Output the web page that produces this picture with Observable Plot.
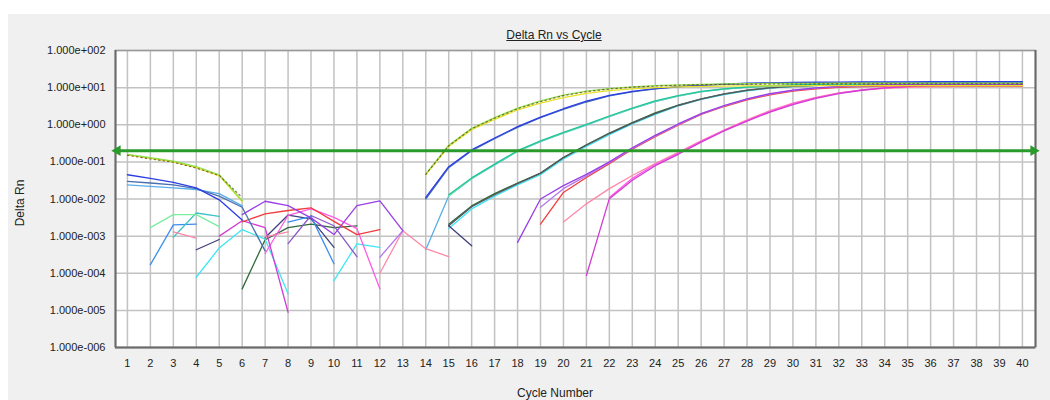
<!DOCTYPE html>
<html><head><meta charset="utf-8">
<script src="https://cdn.jsdelivr.net/npm/d3@7"></script>
<script src="https://cdn.jsdelivr.net/npm/@observablehq/plot@0.6"></script>
<style>
body{margin:0;background:#fff;width:1050px;height:400px;overflow:hidden;font-family:"Liberation Sans",Arial,sans-serif;}
#panel{position:absolute;left:8px;top:14px;width:1042px;height:386px;background:#f0f0f0;}
#chart{position:absolute;left:0;top:0;}
.lbl{position:absolute;font-size:12px;line-height:14px;color:#222;white-space:nowrap;}
</style></head>
<body>
<div id="panel"></div>
<div id="chart"></div>
<div class="lbl" style="left:554px;top:28px;transform:translateX(-50%);text-decoration:underline;">Delta Rn vs Cycle</div>
<div class="lbl" style="left:555px;top:386px;transform:translateX(-50%);">Cycle Number</div>
<div class="lbl" style="left:20px;top:203px;transform:translate(-50%,-50%) rotate(-90deg);">Delta Rn</div>
<script>
const _ = null;
const cycles = [1,2,3,4,5,6,7,8,9,10,11,12,13,14,15,16,17,18,19,20,21,22,23,24,25,26,27,28,29,30,31,32,33,34,35,36,37,38,39,40];
const yTicks = [1e-6,1e-5,1e-4,1e-3,1e-2,1e-1,1e0,1e1,1e2];
const yTickLabels = ["1.000e-006","1.000e-005","1.000e-004","1.000e-003","1.000e-002","1.000e-001","1.000e+000","1.000e+001","1.000e+002"];
const threshold = 0.2;

const w01 = [0.16,0.13,0.105,0.075,0.045,0.009,_,_,_,_,_,_,_,0.047,0.28,0.80,1.55,2.8,4.4,6.3,8.0,9.4,10.5,11.3,11.9,12.3,12.6,12.8,12.9,13.0,13.0,13.1,13.1,13.1,13.2,13.2,13.2,13.2,13.2,13.2];
const w02 = [0.155,0.125,0.10,0.07,0.042,0.0085,_,_,_,_,_,_,_,0.045,0.26,0.74,1.4,2.5,3.8,5.4,7.0,8.3,9.3,10.0,10.5,10.8,11.0,11.1,11.2,11.2,11.3,11.3,11.3,11.3,11.3,11.3,11.3,11.3,11.3,11.3];
const w03 = [0.15,0.12,0.098,0.068,0.043,0.011,_,_,_,_,_,_,_,0.046,0.27,0.78,1.5,2.7,4.2,6.1,7.8,9.2,10.3,11.0,11.6,12.0,12.2,12.4,12.5,12.5,12.6,12.6,12.6,12.6,12.6,12.6,12.6,12.6,12.6,12.6];
const w04 = [0.045,0.036,0.028,0.02,0.0095,0.0027,_,_,_,_,_,_,_,0.011,0.074,0.21,0.44,0.89,1.6,2.7,4.3,6.2,7.9,9.4,10.7,11.7,12.5,13.1,13.5,13.8,14.0,14.1,14.2,14.3,14.3,14.4,14.4,14.4,14.4,14.4];
const w05 = [0.030,0.027,0.024,0.019,0.012,0.006,0.0004,_,_,_,_,_,_,0.010,0.07,0.20,0.42,0.85,1.55,2.6,4.1,6.0,7.7,9.2,10.5,11.5,12.2,12.7,13.1,13.4,13.6,13.7,13.8,13.8,13.9,13.9,13.9,13.9,13.9,13.9];
const w06 = [0.024,0.022,0.020,0.018,0.014,0.0065,_,_,_,_,_,_,_,0.00043,0.012,0.035,0.083,0.19,0.35,0.59,0.98,1.65,2.7,4.2,5.9,7.7,9.1,10.2,11.0,11.6,12.0,12.3,12.5,12.7,12.8,12.9,12.9,13.0,13.0,13.0];
const w07 = [_,_,_,_,_,_,_,_,_,_,_,_,_,_,0.013,0.037,0.087,0.2,0.37,0.62,1.02,1.72,2.8,4.4,6.1,7.9,9.3,10.4,11.2,11.8,12.2,12.5,12.7,12.9,13.0,13.1,13.1,13.2,13.2,13.2];
const w08 = [_,0.0017,0.0038,0.0038,0.0018,_,_,_,_,_,_,_,_,_,0.012,0.036,0.085,0.195,0.36,0.6,1.0,1.7,2.75,4.3,6.0,7.8,9.2,10.3,11.1,11.7,12.1,12.4,12.6,12.8,12.9,13.0,13.0,13.1,13.1,13.1];
const w09 = [_,_,0.00093,0.0042,0.0034,_,_,_,_,_,_,_,_,_,_,_,_,_,_,_,_,_,_,_,_,_,_,_,_,_,_,_,_,_,_,_,_,_,_,_];
const w10 = [_,_,_,_,_,_,_,_,_,_,_,_,_,_,0.0019,0.0062,0.013,0.026,0.049,0.13,0.28,0.58,1.1,2.0,3.3,4.9,6.7,8.4,9.8,10.8,11.5,11.9,12.2,12.4,12.5,12.5,12.6,12.6,12.6,12.6];
const w11 = [_,_,_,0.000078,0.00048,0.0015,0.00083,0.000028,_,0.000063,0.00062,0.0005,_,_,0.0016,0.0054,0.012,0.024,0.045,0.12,0.26,0.54,1.05,1.9,3.2,4.8,6.5,8.2,9.7,10.7,11.4,11.8,12.1,12.2,12.3,12.3,12.4,12.4,12.4,12.4];
const w12 = [_,_,_,0.00043,0.00081,_,0.0009,0.0037,0.0029,0.0005,_,_,_,_,0.0019,0.00055,_,_,_,_,_,_,_,_,_,_,_,_,_,_,_,_,_,_,_,_,_,_,_,_];
const w13 = [_,_,_,_,_,0.0038,0.0087,0.0066,0.0031,0.0011,0.0066,0.0089,0.0014,_,_,_,_,0.00068,0.010,0.023,0.046,0.10,0.24,0.52,1.05,2.0,3.3,5.0,6.9,8.6,9.9,10.8,11.4,11.8,12.0,12.1,12.2,12.2,12.2,12.2];
const w14 = [_,_,_,_,_,_,_,_,_,_,_,0.00027,0.0014,_,_,_,_,_,0.006,0.019,0.042,0.095,0.23,0.5,1.0,1.95,3.2,4.9,6.7,8.4,9.7,10.6,11.2,11.5,11.7,11.8,11.8,11.8,11.8,11.8];
const w15 = [_,_,_,_,_,0.0024,0.0040,0.0049,0.0058,0.0025,0.0011,0.0015,_,_,_,_,_,_,0.0021,0.015,0.038,0.09,0.22,0.48,0.98,1.9,3.1,4.7,6.4,8.0,9.3,10.2,10.7,11.0,11.1,11.2,11.2,11.2,11.2,11.2];
const w16 = [_,_,0.0013,0.00089,_,_,0.00095,0.0013,_,_,_,0.0001,0.0014,0.00046,0.00028,_,_,_,_,0.0024,0.0074,0.019,0.043,0.09,0.18,0.37,0.72,1.35,2.4,3.8,5.5,7.2,8.6,9.6,10.2,10.5,10.7,10.8,10.8,10.8];
const w17 = [_,_,_,_,0.001,0.0026,0.0017,0.0000089,_,_,_,_,_,_,_,_,_,_,_,_,0.000087,0.0102,0.032,0.079,0.16,0.34,0.68,1.25,2.2,3.5,5.1,6.9,8.5,9.8,10.7,11.3,11.7,11.9,12.0,12.0];
const w18 = [_,_,_,_,_,_,0.00034,0.0036,0.0054,0.0032,0.0016,0.000038,_,_,_,_,_,_,_,_,_,0.011,0.036,0.085,0.17,0.36,0.71,1.3,2.3,3.7,5.3,7.1,8.7,9.9,10.8,11.3,11.6,11.8,11.8,11.8];
const w19 = [_,_,_,_,_,0.000038,0.0008,0.0017,0.0021,0.0017,0.0019,_,_,_,0.0021,0.0065,0.014,0.027,0.05,0.13,0.29,0.6,1.15,2.1,3.4,5.0,6.8,8.5,9.9,10.9,11.6,12.0,12.3,12.5,12.6,12.6,12.7,12.7,12.7,12.7];
const w20 = [_,_,_,_,_,_,_,0.00063,0.0036,0.0019,0.00028,_,_,_,_,_,_,_,_,_,_,_,_,_,_,_,_,_,_,_,_,_,_,_,_,_,_,_,_,_];
const w21 = [_,0.00017,0.002,0.0021,_,_,_,0.0024,0.0034,0.00018,_,_,_,_,_,_,_,_,_,_,_,_,_,_,_,_,_,_,_,_,_,_,_,_,_,_,_,_,_,_];

// drawing order (later = on top)
const wellNames = ["W19","W11","W10","W12","W20","W21","W09","W06","W08","W07","W16","W18","W17","W15","W14","W13","W05","W04","W02","W01"];
const wellValues = [w19,w11,w10,w12,w20,w21,w09,w06,w08,w07,w16,w18,w17,w15,w14,w13,w05,w04,w02,w01];
const wellColors = ["#2e6a3a","#3ee6f2","#55555f","#40407a","#8a58c8","#3a8ef0","#3fc3c8","#58aee8","#78eea0","#22c498","#ff88a8","#ff5ae6","#d23cd2","#f23c3c","#b478f0","#9a3ee6","#4a6fb0","#2a3ee6","#e6e22a","#8ee04a"];

const rows = [];
wellNames.forEach((w, k) => wellValues[k].forEach((v, i) => rows.push({well: w, color: wellColors[k], cycle: cycles[i], value: v})));
const dashedRows = w03.map((v, i) => ({cycle: cycles[i], value: v}));

const xDomain = [0.48, 40.57];
const green = "#2a9a2a";

const chart = Plot.plot({
  width: 1050, height: 400,
  marginLeft: 115, marginRight: 15, marginTop: 50, marginBottom: 53,
  style: {background: "transparent", fontFamily: "'Liberation Sans', Arial, sans-serif", fontSize: "11px", color: "#222"},
  x: {domain: xDomain, ticks: cycles, tickFormat: d => String(d), tickSize: 0, tickPadding: 12, label: null},
  y: {type: "log", domain: [1e-6, 1e2], ticks: yTicks, tickFormat: d => yTickLabels[Math.round(Math.log10(d)) + 6], tickSize: 0, tickPadding: 10, label: null},
  marks: [
    Plot.frame({fill: "white", stroke: null}),
    Plot.ruleX(cycles, {stroke: "#c2c2c2", strokeWidth: 1.5}),
    Plot.ruleY(yTicks, {stroke: "#c2c2c2", strokeWidth: 1.5}),
    Plot.frame({stroke: "#9a9a9a", strokeWidth: 1.5}),
    Plot.ruleX([xDomain[0], xDomain[1]], {stroke: "#6a6a6a", strokeWidth: 2}),
    Plot.ruleY([1e-6], {stroke: "#6a6a6a", strokeWidth: 2}),
    Plot.line(rows, {x: "cycle", y: "value", z: "well", stroke: "color", strokeWidth: 1.3, curve: "linear"}),
    Plot.line(dashedRows, {x: "cycle", y: "value", stroke: "#6a4a20", strokeWidth: 1.1, strokeDasharray: "1.5,3", strokeOpacity: 0.85}),
    Plot.ruleY([threshold], {stroke: green, strokeWidth: 3}),
    Plot.dot([xDomain[0]], {x: d => d, y: threshold, symbol: "triangle", rotate: -90, r: 4, fill: green, stroke: null, dx: 2}),
    Plot.dot([xDomain[1]], {x: d => d, y: threshold, symbol: "triangle", rotate: 90, r: 4, fill: green, stroke: null, dx: -2})
  ]
});
document.getElementById("chart").appendChild(chart);
</script>
</body></html>
